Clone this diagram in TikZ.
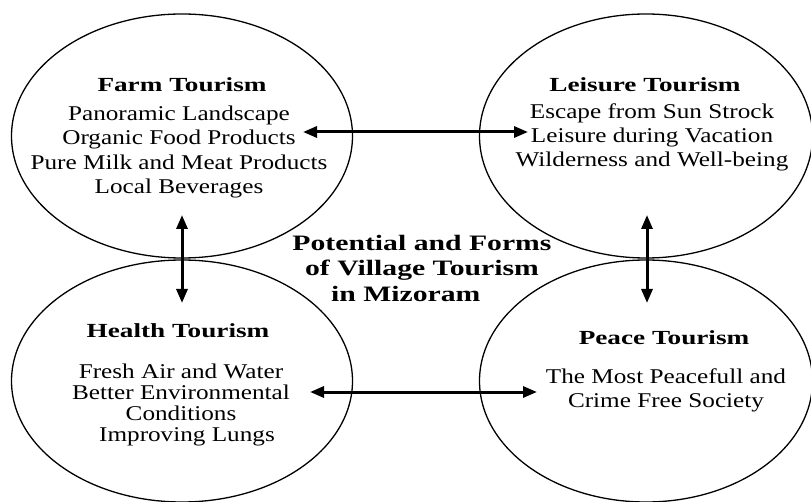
\documentclass[tikz,border=0pt]{standalone}
\usepackage{fontspec}
\setmainfont{Liberation Serif}
\usetikzlibrary{shapes.geometric,arrows.meta,calc}
\begin{document}
\begin{tikzpicture}[x=1pt,y=-1pt,
  bubble/.style={ellipse,draw,line width=1.3pt,inner sep=0pt},
  ttl/.style={font=\bfseries\fontsize{20}{24}\selectfont,xscale=1.36,inner sep=0pt,anchor=base},
  body/.style={font=\fontsize{21}{#1}\selectfont,xscale=1.2,inner sep=0pt,align=center,anchor=north},
  body/.default=24,
  dbl/.style={{Triangle[length=14pt,width=11pt]}-{Triangle[length=14pt,width=11pt]},line width=3pt}]
\clip (0,0) rectangle (811,502);
\fill[white] (0,0) rectangle (811,502);
% ellipses
\node[bubble,minimum width=341,minimum height=244] (farm) at (182,136) {};
\node[bubble,minimum width=333,minimum height=244] (leisure) at (646,136) {};
\node[bubble,minimum width=341,minimum height=242] (health) at (182,381) {};
\node[bubble,minimum width=333,minimum height=242] (peace) at (646,381) {};
% texts
\node[ttl] (farmt) at (182,92) {Farm Tourism};
\node[body=24.5] (farmb) at (179,102.85) {\strut Panoramic Landscape\\Organic Food Products\\Pure Milk and Meat Products\\Local Beverages};
\node[ttl] (leist) at (645,92) {Leisure Tourism};
\node[body=24] (leisb) at (652,101.2) {\strut Escape from Sun Strock\\Leisure during Vacation\\Wilderness and Well-being};
\node[ttl] (healt) at (178,338) {Health Tourism};
\node[body=21] (healb) at (181,363.3) {\strut Fresh Air and Water\\Better Environmental\\Conditions\\\hspace*{10pt}Improving Lungs};
\node[ttl] (peact) at (664,345) {Peace Tourism};
\node[body=24] (peacb) at (666,366.2) {\strut The Most Peacefull and\\Crime Free Society};
\node[font=\bfseries\fontsize{22}{25.5}\selectfont,xscale=1.35,inner sep=0pt,align=center,anchor=north] (center) at (422,232.15)
  {\strut Potential and Forms\\of Village Tourism\\in Mizoram\hspace*{24pt}};
% connectors
\coordinate (fR) at ($(farm.center)+(121,-4)$);
\coordinate (lL) at ($(leisure.center)+(-118,-4)$);
\coordinate (fB) at ($(farm.center)+(0,79)$);
\coordinate (hT) at ($(health.center)+(0,-78)$);
\coordinate (lB) at ($(leisure.center)+(1,79)$);
\coordinate (pT) at ($(peace.center)+(1,-78)$);
\coordinate (hR) at ($(health.center)+(128,11)$);
\coordinate (pL) at ($(peace.center)+(-109,11)$);
\draw[dbl] (fR) -- (lL);
\draw[dbl] (fB) -- (hT);
\draw[dbl] (lB) -- (pT);
\draw[dbl] (hR) -- (pL);
\end{tikzpicture}
\end{document}
